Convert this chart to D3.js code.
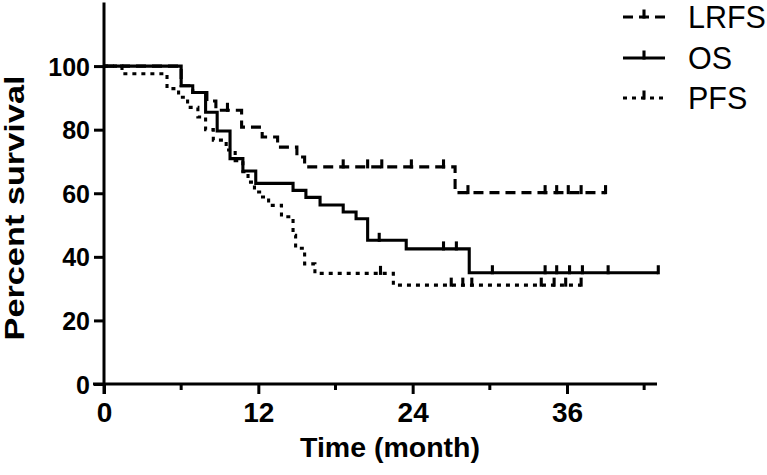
<!DOCTYPE html>
<html>
<head>
<meta charset="utf-8">
<script src="https://cdn.jsdelivr.net/npm/d3@7"></script>
<style>
  html, body { margin: 0; padding: 0; background: #fff; }
  svg { display: block; }
  text { font-family: "Liberation Sans", Arial, Helvetica, sans-serif; fill: #000; }
</style>
</head>
<body>
<svg id="chart" width="767" height="475"></svg>
<script>
// ---------- data ----------
const seriesNames = ["LRFS", "OS", "PFS"];

const lrfsTimes  = [0, 6.0, 6.9, 8.0, 8.7, 10.7, 12.3, 13.5, 15.0, 15.6, 27.3];
const lrfsSurv   = [100, 93.8, 91.7, 89.0, 86.1, 80.8, 77.7, 74.5, 71.4, 68.3, 60.2];
const lrfsEnd    = 39.0;
const lrfsCensor = [9.6, 18.6, 20.5, 21.6, 23.9, 26.4, 28.3, 34.3, 35.2, 36.1, 37.1, 39.0];

const osTimes  = [0, 6.0, 6.9, 7.9, 8.8, 9.8, 10.8, 11.8, 14.7, 15.7, 16.8, 18.6, 19.6, 20.5, 23.5, 28.4];
const osSurv   = [100, 93.8, 91.7, 85.5, 79.6, 70.9, 67.0, 63.1, 60.9, 58.7, 56.3, 54.1, 52.0, 45.2, 42.5, 35.0];
const osEnd    = 43.1;
const osCensor = [21.4, 26.4, 27.4, 30.2, 34.3, 35.2, 36.2, 37.2, 39.2, 43.1];

const pfsTimes  = [0, 1.4, 4.9, 5.8, 6.5, 7.3, 7.9, 8.5, 9.5, 10.2, 10.8, 11.2, 11.7, 12.1, 12.8, 13.8, 14.7, 14.9, 15.6, 16.4, 22.5];
const pfsSurv   = [100, 97.6, 92.9, 90.2, 87.0, 84.0, 80.0, 76.7, 73.6, 70.2, 66.8, 63.5, 60.4, 58.8, 56.2, 52.6, 46.8, 42.7, 37.8, 34.8, 31.1];
const pfsEnd    = 37.1;
const pfsCensor = [21.5, 27.0, 27.9, 28.6, 34.0, 35.0, 35.9, 37.1];

const xMajorTicks = [0, 12, 24, 36];
const xMinorTicks = [6, 18, 30, 42];
const yTicks = [0, 20, 40, 60, 80, 100];
const xDomain = [0, 43];
const yDomain = [0, 120];

// ---------- drawing ----------
const svg = d3.select("#chart");
const x = d3.scaleLinear().domain(xDomain).range([104, 657]);
const y = d3.scaleLinear().domain(yDomain).range([384, 2.5]);

const styles = {
  LRFS: { dash: "10,6" },
  OS:   { dash: null },
  PFS:  { dash: "4,5" }
};

const series = [
  { name: "LRFS", times: lrfsTimes, surv: lrfsSurv, end: lrfsEnd, censor: lrfsCensor },
  { name: "OS",   times: osTimes,   surv: osSurv,   end: osEnd,   censor: osCensor },
  { name: "PFS",  times: pfsTimes,  surv: pfsSurv,  end: pfsEnd,  censor: pfsCensor }
];

function survAt(s, t) {
  let v = s.surv[0];
  for (let i = 0; i < s.times.length; i++) if (s.times[i] <= t) v = s.surv[i];
  return v;
}

const line = d3.line().x(d => x(d[0])).y(d => y(d[1])).curve(d3.curveStepAfter);
const lw = 3.1;
const tickH = 7.5;

series.forEach(s => {
  const pts = s.times.map((t, i) => [t, s.surv[i]]);
  pts.push([s.end, s.surv[s.surv.length - 1]]);
  svg.append("path")
    .attr("d", line(pts))
    .attr("fill", "none")
    .attr("stroke", "#000")
    .attr("stroke-width", lw)
    .attr("stroke-dasharray", styles[s.name].dash)
    .attr("stroke-linejoin", "miter");
  svg.append("g").selectAll("line").data(s.censor).join("line")
    .attr("x1", d => x(d)).attr("x2", d => x(d))
    .attr("y1", d => y(survAt(s, d)) + lw / 2)
    .attr("y2", d => y(survAt(s, d)) - tickH)
    .attr("stroke", "#000").attr("stroke-width", lw);
});

// axes
const axisW = 3;
const xAxis = svg.append("g").attr("transform", `translate(0,${y(0)})`)
  .call(d3.axisBottom(x).tickValues(xMajorTicks).tickSize(10).tickPadding(8).tickSizeOuter(0));
xAxis.append("g").selectAll("line").data(xMinorTicks).join("line")
  .attr("x1", d => x(d)).attr("x2", d => x(d)).attr("y1", 0).attr("y2", 6)
  .attr("stroke", "#000").attr("stroke-width", axisW);
xAxis.select(".domain").attr("d", `M${x(0) - 11},0H${x(xDomain[1])}`);

const yAxis = svg.append("g").attr("transform", `translate(${x(0)},0)`)
  .call(d3.axisLeft(y).tickValues(yTicks).tickSize(10).tickPadding(4).tickSizeOuter(0));
yAxis.select(".domain").attr("d", `M0,${y(0) + 10}V${y(yDomain[1])}`);

[xAxis, yAxis].forEach(a => {
  a.selectAll(".domain").attr("stroke", "#000").attr("stroke-width", axisW).attr("fill", "none");
  a.selectAll(".tick line").attr("stroke", "#000").attr("stroke-width", axisW);
  a.selectAll(".tick text").attr("font-weight", "bold").attr("fill", "#000")
    .style("font-family", '"Liberation Sans", Arial, sans-serif');
});
xAxis.selectAll(".tick text").attr("font-size", 28);
yAxis.selectAll(".tick text").attr("font-size", 25).attr("dy", "0.36em");

// axis titles
svg.append("text")
  .attr("x", 390).attr("y", 457)
  .attr("text-anchor", "middle")
  .attr("font-size", 28.5).attr("font-weight", "bold")
  .text("Time (month)");

svg.append("text")
  .attr("transform", "translate(24,208) rotate(-90)")
  .attr("text-anchor", "middle")
  .attr("font-size", 28).attr("font-weight", "bold")
  .attr("textLength", 265).attr("lengthAdjust", "spacingAndGlyphs")
  .text("Percent survival");

// legend
const legY = [17, 58, 98];
seriesNames.forEach((n, i) => {
  const g = svg.append("g");
  g.append("line").attr("x1", 623).attr("x2", 665).attr("y1", legY[i]).attr("y2", legY[i])
    .attr("stroke", "#000").attr("stroke-width", lw).attr("stroke-dasharray", styles[n].dash);
  g.append("line").attr("x1", 644).attr("x2", 644).attr("y1", legY[i] + lw / 2).attr("y2", legY[i] - tickH)
    .attr("stroke", "#000").attr("stroke-width", lw);
  g.append("text").attr("x", 688).attr("y", legY[i]).attr("dy", "0.36em")
    .attr("font-size", 30.5).text(n);
});
</script>
</body>
</html>
